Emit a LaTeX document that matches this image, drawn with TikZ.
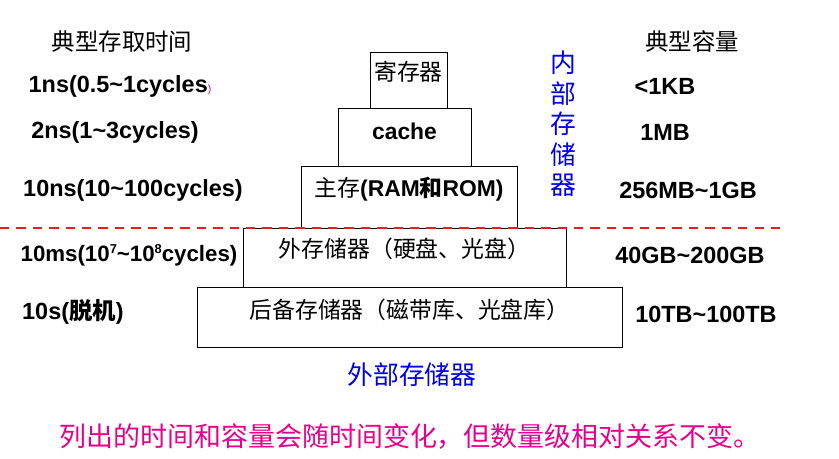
\documentclass[tikz,border=0pt]{standalone}
\usepackage{fontspec}
\setmainfont{Liberation Sans}
\newfontfamily\cjk{Noto Sans CJK SC}
\usetikzlibrary{positioning}
\definecolor{memblue}{RGB}{0,0,230}
\definecolor{memred}{RGB}{230,30,30}
\definecolor{memmagenta}{RGB}{230,0,140}
\tikzset{
    % level boxes
    level box/.style={draw=black, thin, rectangle, inner sep=0pt, font=\fontsize{19.5}{22}\selectfont},
    % side labels
    side label/.style={font=\bfseries\fontsize{20}{24}\selectfont, inner sep=0pt},
    head label/.style={font=\cjk\fontsize{20}{24}\selectfont, inner sep=0pt},
    blue label/.style={font=\cjk\fontsize{22}{26}\selectfont, text=memblue, inner sep=0pt}
}
\begin{document}
\begin{tikzpicture}[x=0.03cm, y=-0.03cm]
        \useasboundingbox (0,0) rectangle (839,459);

        % Pyramid levels
        \draw[level box] (370,52) rectangle (447,108);
        \node[level box, draw=none] (reg) at (408.5,72) {\cjk 寄存器};
        \draw[level box] (338,108) rectangle (471,166);
        \node[level box, draw=none] (cache) at (404.5,131) {\bfseries cache};
        \draw[level box] (301,166) rectangle (517,228);
        \node[level box, draw=none] (main) at (409,189) {{\cjk 主存}\bfseries(RAM{\cjk 和}ROM)};
        \draw[level box] (243,228) rectangle (566,287);
        \node[level box, draw=none] (disk) at (404.5,249) {\cjk 外存储器（硬盘、光盘）};
        \draw[level box] (197,287) rectangle (622,347);
        \node[level box, draw=none] (backup) at (409.5,310) {\cjk 后备存储器（磁带库、光盘库）};

        % Boundary
        \draw[memred, line width=1.2pt, dash pattern=on 8pt off 6pt] (0,228) -- (785,228);

        % Access times
        \node[head label] (timehead) at (122,42) {典型存取时间};
        \node[side label] (t1) at (120,86) {1ns(0.5\textasciitilde1cycles{\color{memmagenta}\mdseries\small)}};
        \node[side label] (t2) at (115,132) {2ns(1\textasciitilde3cycles)};
        \node[side label] (t3) at (133,190) {10ns(10\textasciitilde100cycles)};
        \node[side label, font=\bfseries\fontsize{19}{23}\selectfont] (t4) at (129,255) {10ms(10{\fontsize{11}{12}\selectfont\raisebox{0.6em}{7}}\textasciitilde10{\fontsize{11}{12}\selectfont\raisebox{0.6em}{8}}cycles)};
        \node[side label] (t5) at (73,312) {10s({\cjk 脱机})};

        % Capacities
        \node[head label] (caphead) at (692,42) {典型容量};
        \node[side label] (c1) at (665,86) {<1KB};
        \node[side label] (c2) at (665,132) {1MB};
        \node[side label] (c3) at (688,190) {256MB\textasciitilde1GB};
        \node[side label] (c4) at (690,255) {40GB\textasciitilde200GB};
        \node[side label] (c5) at (706,314) {10TB\textasciitilde100TB};

        % Memory groups
        \node[blue label, align=center, font=\cjk\fontsize{22}{26}\selectfont] (inner) at (563,124) {内\\部\\存\\储\\器};
        \node[blue label] (outer) at (412,375) {外部存储器};

        \node[font=\cjk\fontsize{23}{26}\selectfont, text=memmagenta] (note) at (410,437) {列出的时间和容量会随时间变化，但数量级相对关系不变。};
    \end{tikzpicture}
\end{document}
